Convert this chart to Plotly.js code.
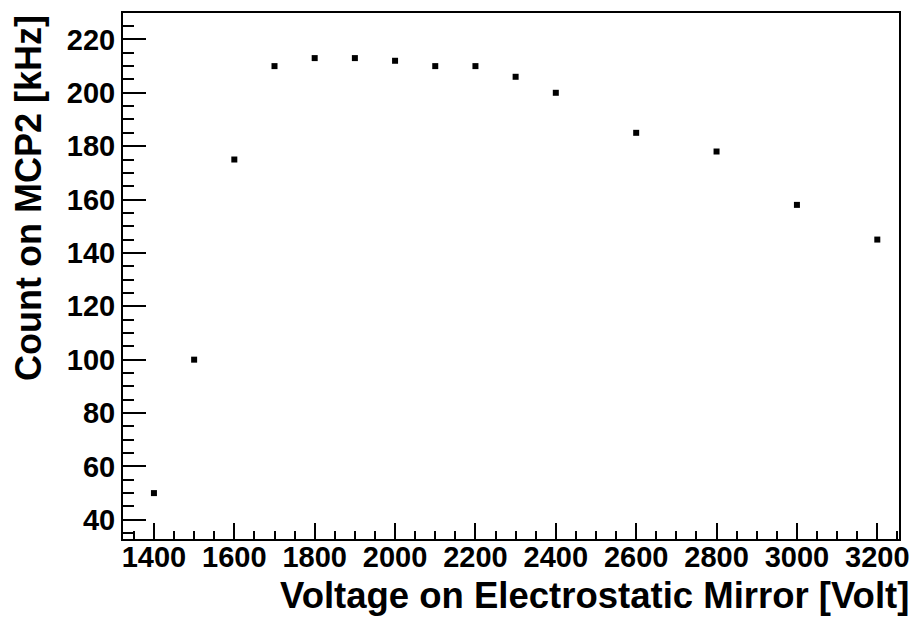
<!DOCTYPE html>
<html>
<head>
<meta charset="utf-8">
<script src="https://cdn.plot.ly/plotly-3.0.1.min.js"></script>
<style>html,body{margin:0;padding:0;background:#fff;}#chart{width:911px;height:619px;}</style>
</head>
<body>
<div id="chart"></div>
<script>
const voltage = [1400, 1500, 1600, 1700, 1800, 1900, 2000, 2100, 2200, 2300, 2400, 2600, 2800, 3000, 3200];
const countKHz = [50, 100, 175, 210, 213, 213, 212, 210, 210, 206, 200, 185, 178, 158, 145];
const xTitle = "Voltage on Electrostatic Mirror [Volt]";
const yTitle = "Count on MCP2 [kHz]";

const FONT = "Liberation Sans, Arial, sans-serif";

const trace = {
  x: voltage,
  y: countKHz,
  type: "scatter",
  mode: "markers",
  marker: {symbol: "square", size: 6, color: "#000000", line: {width: 0}},
  hoverinfo: "x+y"
};

const axisCommon = {
  showline: true,
  mirror: true,
  linecolor: "#000",
  linewidth: 2,
  showgrid: false,
  zeroline: false,
  ticks: "inside",
  tickcolor: "#000",
  tickwidth: 2,
  tickfont: {family: FONT, size: 29, color: "#000", weight: "bold"}
};

const layout = {
  width: 911,
  height: 619,
  paper_bgcolor: "#fff",
  plot_bgcolor: "#fff",
  showlegend: false,
  margin: {l: 123, r: 12, t: 13, b: 80, pad: 0},
  xaxis: Object.assign({}, axisCommon, {
    range: [1323, 3254],
    tickmode: "linear", tick0: 1400, dtick: 200,
    ticklen: 16,
    minor: {dtick: 50, ticklen: 8, tickcolor: "#000", tickwidth: 2, ticks: "inside", showgrid: false},
    ticklabelstandoff: -9
  }),
  yaxis: Object.assign({}, axisCommon, {
    range: [32.8, 229.9],
    tickmode: "linear", tick0: 40, dtick: 20,
    ticklen: 23,
    minor: {dtick: 5, ticklen: 11, tickcolor: "#000", tickwidth: 2, ticks: "inside", showgrid: false},
    ticklabelstandoff: 0
  }),
  annotations: [
    {text: xTitle, xref: "paper", yref: "paper", x: 1.0155, y: -0.107, xanchor: "right", yanchor: "middle",
     showarrow: false, font: {family: FONT, size: 36.5, color: "#000", weight: "bold"}},
    {text: yTitle, xref: "paper", yref: "paper", x: -0.1224, y: 1.0, xanchor: "center", yanchor: "top",
     textangle: -90, showarrow: false, font: {family: FONT, size: 36, color: "#000", weight: "bold"}}
  ]
};

Plotly.newPlot("chart", [trace], layout, {displayModeBar: false, staticPlot: true});
</script>
</body>
</html>
